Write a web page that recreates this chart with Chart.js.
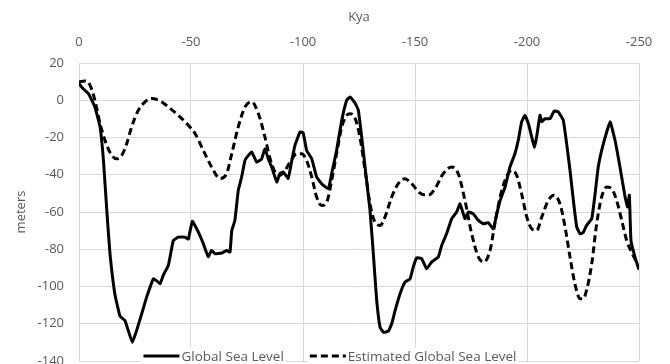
<!DOCTYPE html>
<html>
<head>
<meta charset="utf-8">
<script src="https://cdn.jsdelivr.net/npm/chart.js@4/dist/chart.umd.min.js"></script>
<style>
  html, body { margin: 0; padding: 0; background: #fff; }
  #wrap { width: 670px; height: 364px; }
</style>
</head>
<body>
<div id="wrap"><canvas id="seaChart" width="670" height="364"></canvas></div>
<script>
// thousand years ago (plotted as negative) and sea level in meters
const globalKya = [0, 2, 4.2, 7.1, 9.4, 10.9, 12.4, 13.8, 16, 18.3, 20.5, 22, 23.8, 25.7, 28, 30.2, 33.2, 34.7, 36.2, 37.6,
  39.9, 42.1, 44.3, 47.3, 48.8, 50.6, 53.3, 55.5, 57.7, 59.2, 60.7, 63.7, 65.9, 67.4, 68.2, 69.6, 71.1, 72.6, 74.1, 75.6,
  77.1, 79.3, 81.5, 83, 84.5, 86, 88.3, 89.7, 91.2, 93.4, 95, 96.4, 98.7, 100.1, 101.6, 103.9, 106.1, 108.3, 111.3, 112.8,
  115, 117.3, 119.5, 121, 123.2, 124.7, 126.2, 127.7, 129.9, 131.4, 132.9, 134.4, 135.9, 138.1, 139.6, 141.1, 143.3, 145.5,
  147.8, 149.2, 150.7, 153, 155.2, 157.4, 160.4, 161.9, 164.1, 166.4, 168.6, 170.1, 172.3, 173.8, 176, 178.3, 180.5, 182.7,
  185, 186.5, 188, 190.2, 192.4, 194.6, 196.1, 197.6, 199.1, 200.6, 202.1, 203.3, 204.3, 205.8, 206.6, 208, 210.3, 212.2,
  214, 216.2, 217.7, 219.2, 220.7, 222.2, 223.7, 225.1, 226.6, 228.9, 230.4, 231.8, 234.1, 237.1, 239.3, 241.5, 243.8,
  244.9, 245.7, 246.4, 248.2, 250];
const globalLevel = [9, 6, 3.6, -3.6, -14.3, -32, -59, -82, -104, -116, -118.3, -123.7, -130, -123.7, -114.6, -105.7, -95.9, -97, -98.6, -94,
  -88.7, -75.3, -73.5, -73.5, -74.5, -65, -70.8, -77, -84, -80.6, -82.4, -82, -80.6, -81.5, -70, -64.5, -48.4, -41.2, -32.3, -29.6,
  -27.8, -33.2, -31.5, -26, -31.4, -35.8, -43.9, -39.4, -38.5, -42, -32.3, -24.2, -17, -17.6, -26.9, -31.4, -41.2, -44.8, -47.5, -39.4,
  -26.9, -10.8, 0, 1.8, -1.5, -5.4, -19.7, -35.8, -59, -82.4, -107.5, -121.9, -124.6, -124, -120, -113, -104, -97.7,
  -95.9, -89.6, -84.6, -85.1, -90.5, -86.9, -84.2, -78, -71.7, -63.6, -60, -55.6, -63.6, -60, -61, -64.5, -66.3, -65.7,
  -69, -61, -53.8, -46.6, -35.8, -28.7, -21.5, -11.6, -8.1, -12.5, -19.7, -25.4, -19.7, -8.1, -11.6, -9.9, -9.9, -5.7,
  -6.3, -10.8, -23.3, -37.6, -53.8, -68.1, -71.7, -71, -67.2, -63.6, -50.2, -35.8, -23.3, -11.6, -21.5, -35.8, -52,
  -57.3, -51, -75.3, -84.2, -91];

const estKya = [0, 2.7, 4.9, 7.1, 9.4, 11.6, 14.6, 16.8, 19.1, 21.3, 23.5, 26.5, 29.5, 32.4, 36.2, 39.9, 44.3, 48.8, 51.8, 55.5,
  59.2, 62.9, 65.9, 68.2, 71.1, 74.1, 77.1, 80.1, 83, 85.3, 87.5, 89.7, 92, 94.2, 97.2, 99.4, 101.6, 103.9, 106.1, 108.3,
  110.6, 112.8, 115, 117.3, 119.5, 121, 123.2, 125.4, 127.7, 129.9, 132.1, 134.4, 136.6, 139.6, 142.5, 145.5, 148.5, 152.2,
  155.9, 158.9, 162.6, 166.4, 169.3, 172.3, 175.3, 178.3, 180.8, 183.5, 185.7, 188, 190.2, 193.2, 195.4, 197.6, 199.9,
  202.1, 204.3, 206.6, 209.5, 212, 214.7, 217, 219.2, 221.4, 223.7, 225.1, 226.6, 228.9, 231.1, 233.3, 235.6, 237.8, 240,
  242.3, 244.5, 246.7, 248.9, 250];
const estLevel = [9.8, 10.4, 8.1, 0, -12.5, -21.5, -29.6, -31.4, -29.6, -23.3, -14.3, -5.4, -0.9, 0.9, -0.4, -3.6, -8.1, -13.4, -17.9, -26.9,
  -35.8, -42, -39.4, -28.7, -14.3, -3.6, -0.9, -7.2, -19.7, -31.4, -38.5, -40.3, -37.6, -33.2, -28.7, -28.7, -32.3, -41.2, -52, -56.5,
  -54.7, -43, -28.7, -14.3, -8.1, -7.2, -9.5, -19.7, -37.6, -55.6, -65.4, -67.2, -62.7, -52, -44.8, -42.1, -44.8, -49.8,
  -51, -47.5, -39.4, -35.8, -39.4, -53.8, -71.7, -84.2, -86.9, -80.6, -66, -52, -43, -37.6, -40.3, -50.2, -62.7,
  -69, -69.9, -62.7, -53.8, -51, -55.6, -68.1, -84.2, -98.6, -106.6, -106.6, -102, -87.8, -66.3, -52, -46.6, -47.5, -53.8,
  -64.5, -75.3, -81.6, -86.9, -90];

const yTicks = [20, 0, -20, -40, -60, -80, -100, -120, -140];
const xTicks = [0, -50, -100, -150, -200, -250];

const toPoints = (ks, ms) => ks.map((k, i) => ({ x: -k, y: ms[i] }));

const tickFont = { family: 'Open Sans', size: 13 };
const grey = '#595959';

// legend drawn over the bottom of the plot, the way the original does it
const bottomLegend = {
    id: 'bottomLegend',
    afterDraw(chart) {
        const ctx = chart.ctx;
        const sets = chart.data.datasets;
        ctx.save();
        ctx.font = '13.5px "Open Sans"';
        ctx.textBaseline = 'middle';
        const sample = 36, gapAfter = 2, gapBetween = 26;
        const widths = sets.map(d => sample + gapAfter + ctx.measureText(d.label).width);
        const total = widths.reduce((a, b) => a + b, 0) + gapBetween * (sets.length - 1);
        let x = chart.width / 2 - 5 - total / 2;
        const y = 356;
        sets.forEach((d, i) => {
            ctx.fillStyle = '#fff';
            ctx.fillRect(x - 2, y - 8, widths[i] + 4, 16);
            ctx.strokeStyle = d.borderColor;
            ctx.lineWidth = 3;
            ctx.setLineDash(d.borderDash || []);
            ctx.beginPath();
            ctx.moveTo(x, y);
            ctx.lineTo(x + sample, y);
            ctx.stroke();
            ctx.setLineDash([]);
            ctx.fillStyle = grey;
            ctx.fillText(d.label, x + sample + gapAfter, y + 1);
            x += widths[i] + gapBetween;
        });
        ctx.restore();
    }
};

new Chart(document.getElementById('seaChart'), {
    type: 'line',
    data: {
        datasets: [
            {
                label: 'Global Sea Level',
                data: toPoints(globalKya, globalLevel),
                borderColor: '#000',
                borderWidth: 3,
                pointRadius: 0,
                tension: 0.1
            },
            {
                label: 'Estimated Global Sea Level',
                data: toPoints(estKya, estLevel),
                borderColor: '#000',
                borderWidth: 3,
                borderDash: [7, 4],
                pointRadius: 0,
                cubicInterpolationMode: 'monotone'
            }
        ]
    },
    options: {
        responsive: false,
        animation: false,
        layout: { padding: { left: 13, right: 31, top: 7, bottom: 3 } },
        plugins: { legend: { display: false }, tooltip: { enabled: false } },
        scales: {
            x: {
                type: 'linear',
                position: 'top',
                reverse: true,
                min: -250,
                max: 0,
                afterBuildTicks: s => { s.ticks = xTicks.map(v => ({ value: v })); },
                afterFit: s => { s.height = 56; s.paddingLeft = 0; s.paddingRight = 0; },
                grid: { color: '#d9d9d9', drawTicks: false },
                border: { color: '#d9d9d9' },
                ticks: { color: grey, font: tickFont, padding: 13 },
                title: { display: true, text: 'Kya', color: grey, font: { family: 'Open Sans', size: 13 }, padding: { top: 2, bottom: 0 } }
            },
            y: {
                min: -140,
                max: 20,
                afterBuildTicks: s => { s.ticks = yTicks.map(v => ({ value: v })); },
                afterFit: s => { s.width = 66; s.paddingTop = 0; s.paddingBottom = 0; },
                grid: { color: '#d9d9d9', drawTicks: false },
                border: { color: '#d9d9d9' },
                ticks: { color: grey, font: tickFont, padding: 15 },
                title: { display: true, text: 'meters', color: grey, font: { family: 'Open Sans', size: 13 }, padding: 0 }
            }
        }
    },
    plugins: [bottomLegend]
});
</script>
</body>
</html>
